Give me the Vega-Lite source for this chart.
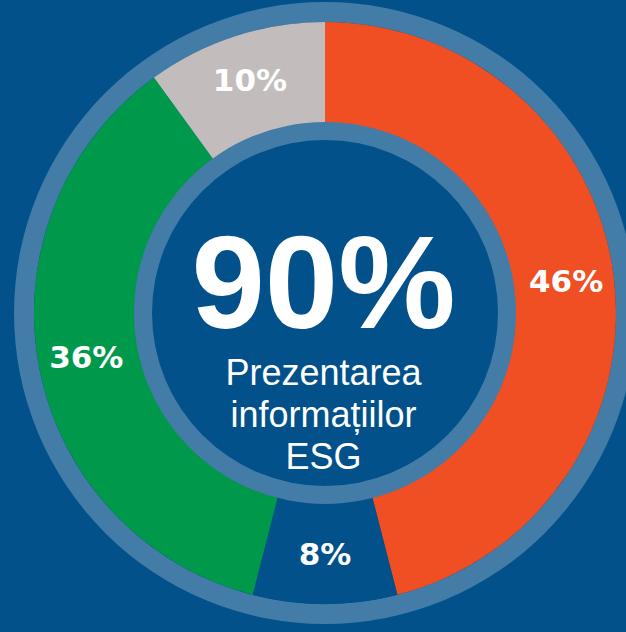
{
  "$schema": "https://vega.github.io/schema/vega-lite/v6.json",
  "autosize": {"type": "none"},
  "width": 602,
  "height": 626,
  "padding": {"left": 24, "top": 0, "right": 0, "bottom": 6},
  "background": "#02518a",
  "config": {"view": {"stroke": null}},
  "datasets": {
    "segments": [
      {"segment": "Raportare A", "value": 46, "label": "46%", "o": 1},
      {"segment": "Raportare B", "value": 8, "label": "8%", "o": 2},
      {"segment": "Raportare C", "value": 36, "label": "36%", "o": 3},
      {"segment": "Raportare D", "value": 10, "label": "10%", "o": 4}
    ],
    "ring": [{"value": 100}]
  },
  "layer": [
    {
      "data": {"name": "ring"},
      "mark": {"type": "arc", "radius": 311, "radius2": 291, "color": "#427ca7"},
      "encoding": {"theta": {"field": "value", "type": "quantitative", "scale": {"domain": [0, 100]}}}
    },
    {
      "data": {"name": "segments"},
      "mark": {"type": "arc", "radius": 291, "radius2": 190},
      "encoding": {
        "theta": {"field": "value", "type": "quantitative", "stack": true, "scale": {"domain": [0, 100]}},
        "order": {"field": "o", "type": "quantitative"},
        "color": {"field": "segment", "type": "nominal", "legend": null,
          "scale": {"domain": ["Raportare A", "Raportare B", "Raportare C", "Raportare D"],
                    "range": ["#f04e23", "#02518a", "#00984a", "#c2bdbc"]}}
      }
    },
    {
      "data": {"name": "ring"},
      "mark": {"type": "arc", "radius": 191, "radius2": 173, "color": "#427ca7"},
      "encoding": {"theta": {"field": "value", "type": "quantitative", "scale": {"domain": [0, 100]}}}
    },
    {
      "data": {"name": "segments"},
      "mark": {"type": "text", "radius": 243, "font": "DejaVu Sans", "fontWeight": "bold", "fontSize": 31, "color": "#ffffff", "baseline": "middle", "align": "center"},
      "encoding": {
        "theta": {"field": "value", "type": "quantitative", "stack": true, "scale": {"domain": [0, 100]}},
        "order": {"field": "o", "type": "quantitative"},
        "text": {"field": "label"}
      }
    },
    {
      "data": {"values": [{"t": "90%"}]},
      "mark": {"type": "text", "font": "Liberation Sans", "fontWeight": "bold", "fontSize": 132, "color": "#ffffff", "baseline": "alphabetic", "align": "center", "dy": 15, "dx": -1.5},
      "encoding": {"text": {"field": "t"}}
    },
    {
      "data": {"values": [{"t": ["Prezentarea", "informațiilor", "ESG"]}]},
      "mark": {"type": "text", "font": "Liberation Sans", "fontSize": 36, "lineHeight": 42, "color": "#ffffff", "baseline": "alphabetic", "align": "center", "dy": 72, "dx": -1.5},
      "encoding": {"text": {"field": "t"}}
    }
  ]
}
